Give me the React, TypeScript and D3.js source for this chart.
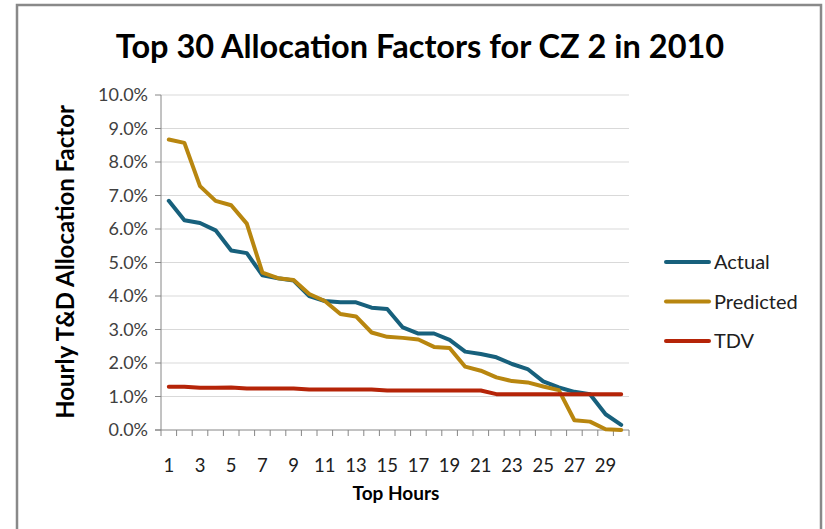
import { useEffect, useRef } from 'react';
import * as d3 from 'd3';

const hours = d3.range(1, 31);
const actual = [6.84, 6.26, 6.18, 5.96, 5.36, 5.28, 4.62, 4.53, 4.46, 4.0, 3.85, 3.81, 3.81, 3.65, 3.61, 3.06, 2.88, 2.88, 2.69, 2.34, 2.27, 2.17, 1.97, 1.82, 1.45, 1.27, 1.14, 1.07, 0.47, 0.15];
const predicted = [8.67, 8.57, 7.28, 6.84, 6.71, 6.16, 4.7, 4.53, 4.48, 4.06, 3.85, 3.46, 3.39, 2.91, 2.78, 2.75, 2.7, 2.48, 2.45, 1.89, 1.77, 1.57, 1.46, 1.42, 1.3, 1.19, 0.29, 0.25, 0.02, 0.0];
const tdv = [1.29, 1.29, 1.26, 1.26, 1.27, 1.24, 1.24, 1.24, 1.24, 1.21, 1.21, 1.21, 1.21, 1.21, 1.18, 1.18, 1.18, 1.18, 1.18, 1.18, 1.18, 1.07, 1.07, 1.07, 1.07, 1.07, 1.07, 1.07, 1.07, 1.07];
const yTicks = d3.range(0, 11);
const xTickLabels = hours.filter(h => h % 2 === 1);

const SERIES = [
  { name: 'Actual', values: actual, color: '#17607c' },
  { name: 'Predicted', values: predicted, color: '#b8860f' },
  { name: 'TDV', values: tdv, color: '#b52408' },
];

const FONT = 'Lato, "Open Sans", sans-serif';

export default function App() {
  const svgRef = useRef<SVGSVGElement>(null);

  useEffect(() => {
    if (!svgRef.current) return;
    const W = 825, H = 529;
    const svg = d3.select(svgRef.current);
    svg.selectAll('*').remove();
    svg.attr('width', W).attr('height', H);

    svg.append('rect').attr('width', W).attr('height', H).attr('fill', '#fff');
    // outer chart frame
    svg.append('rect')
      .attr('x', 17).attr('y', 5).attr('width', 804).attr('height', 540)
      .attr('fill', 'none').attr('stroke', '#898989').attr('stroke-width', 2.5);

    const x = d3.scaleBand<number>().domain(hours).range([161, 629]).padding(0);
    const y = d3.scaleLinear().domain([0, 10]).range([430, 95]);
    const cx = (h: number) => (x(h) ?? 0) + x.bandwidth() / 2;

    // gridlines
    svg.append('g').selectAll('line').data(yTicks.filter(t => t > 0)).enter().append('line')
      .attr('x1', 161).attr('x2', 629)
      .attr('y1', d => y(d)).attr('y2', d => y(d))
      .attr('stroke', '#d9d9d9').attr('stroke-width', 1);

    // y axis
    const yAxis = svg.append('g');
    yAxis.append('line').attr('x1', 161).attr('x2', 161).attr('y1', y(10)).attr('y2', y(0))
      .attr('stroke', '#868686');
    yAxis.selectAll('line.t').data(yTicks).enter().append('line').attr('class', 't')
      .attr('x1', 155).attr('x2', 161).attr('y1', d => y(d)).attr('y2', d => y(d))
      .attr('stroke', '#868686');
    yAxis.selectAll('text').data(yTicks).enter().append('text')
      .attr('x', 148).attr('y', d => y(d)).attr('dy', '0.35em')
      .attr('text-anchor', 'end').attr('font-family', FONT).attr('font-size', 18).attr('fill', '#404040')
      .text(d => d3.format('.1f')(d) + '%');

    // x axis
    const xAxis = svg.append('g');
    xAxis.append('line').attr('x1', 155).attr('x2', 629).attr('y1', y(0)).attr('y2', y(0))
      .attr('stroke', '#868686');
    xAxis.selectAll('line.t').data(d3.range(0, 31)).enter().append('line').attr('class', 't')
      .attr('x1', d => 161 + d * x.bandwidth()).attr('x2', d => 161 + d * x.bandwidth())
      .attr('y1', y(0)).attr('y2', y(0) + 6)
      .attr('stroke', '#868686');
    xAxis.selectAll('text').data(xTickLabels).enter().append('text')
      .attr('x', d => cx(d)).attr('y', 472)
      .attr('text-anchor', 'middle').attr('font-family', FONT).attr('font-size', 18.5).attr('fill', '#202020')
      .text(d => d);

    // series lines
    const line = d3.line<number>().x((_, i) => cx(hours[i])).y(d => y(d)).curve(d3.curveLinear);
    for (const s of SERIES) {
      svg.append('path').attr('d', line(s.values) ?? '')
        .attr('fill', 'none').attr('stroke', s.color).attr('stroke-width', 4)
        .attr('stroke-linejoin', 'round').attr('stroke-linecap', 'round');
    }

    // titles
    svg.append('text').attr('x', 420).attr('y', 58).attr('text-anchor', 'middle')
      .attr('font-family', FONT).attr('font-weight', 700).attr('font-size', 32.5).attr('fill', '#000')
      .text('Top 30 Allocation Factors for CZ 2 in 2010');
    svg.append('text').attr('x', 396).attr('y', 500).attr('text-anchor', 'middle')
      .attr('font-family', FONT).attr('font-weight', 700).attr('font-size', 19).attr('fill', '#000')
      .text('Top Hours');
    svg.append('text').attr('transform', 'translate(74,262) rotate(-90)').attr('text-anchor', 'middle')
      .attr('font-family', FONT).attr('font-weight', 700).attr('font-size', 24).attr('fill', '#000')
      .text('Hourly T&D Allocation Factor');

    // legend
    const legend = svg.append('g');
    SERIES.forEach((s, i) => {
      const ly = 262 + i * 39.5;
      legend.append('line').attr('x1', 666).attr('x2', 709).attr('y1', ly).attr('y2', ly)
        .attr('stroke', s.color).attr('stroke-width', 4).attr('stroke-linecap', 'round');
      legend.append('text').attr('x', 714).attr('y', ly).attr('dy', '0.35em')
        .attr('font-family', FONT).attr('font-size', 20).attr('fill', '#202020').text(s.name);
    });
  }, []);

  return <svg ref={svgRef} style={{ position: 'absolute', left: 0, top: 0, display: 'block' }} />;
}
